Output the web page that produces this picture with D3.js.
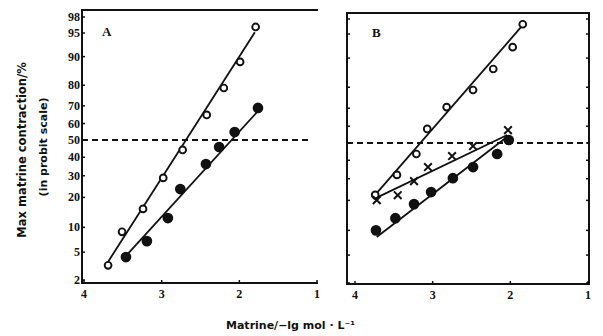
<!DOCTYPE html>
<html>
<head>
<meta charset="utf-8">
<script src="https://cdn.jsdelivr.net/npm/d3@7/dist/d3.min.js"></script>
<style>
  body { margin: 0; background: #fff; }
  text { font-family: "Liberation Serif", serif; font-weight: bold; fill: #111; }
  text.title { font-family: "DejaVu Sans", sans-serif; }
</style>
</head>
<body>
<svg id="chart" width="603" height="336"></svg>
<script>
const yTicks = [2, 5, 10, 20, 30, 40, 50, 60, 70, 80, 90, 95, 98];
const xTicks = [4, 3, 2, 1];

// panel A  (x = -lg mol/L, y = % contraction)
const aOpenX = [3.69, 3.51, 3.24, 2.98, 2.73, 2.42, 2.20, 1.99, 1.79];
const aOpenY = [3.3, 8.9, 15.6, 28.9, 44.2, 65.0, 78.8, 88.5, 96.4];
const aFillX = [3.46, 3.19, 2.92, 2.76, 2.43, 2.26, 2.06, 1.76];
const aFillY = [4.3, 6.9, 12.6, 23.6, 36.2, 45.9, 54.9, 68.9];
const aOpenFit = [[3.69, 3.7], [1.80, 95.2]];
const aFillFit = [[3.43, 4.8], [1.77, 66.7]];

// panel B
const bOpenX = [3.74, 3.46, 3.21, 3.07, 2.82, 2.48, 2.22, 1.97, 1.84];
const bOpenY = [22.3, 32.0, 43.6, 58.4, 70.6, 78.8, 86.8, 92.6, 97.2];
const bCrossX = [3.72, 3.45, 3.24, 3.06, 2.75, 2.48, 2.03];
const bCrossY = [20.1, 22.2, 28.8, 36.2, 42.4, 48.2, 57.7];
const bFillX = [3.73, 3.48, 3.24, 3.02, 2.74, 2.48, 2.17, 2.02];
const bFillY = [10.0, 13.5, 18.5, 23.6, 30.3, 36.2, 43.6, 51.8];
const bOpenFit = [[3.74, 22.3], [1.81, 97.5]];
const bCrossFit = [[3.76, 20.5], [2.04, 54.8]];
const bFillFit = [[3.72, 8.4], [2.06, 53.0]];

// inverse normal CDF (Acklam)
function probit(p) {
  const a = [-39.69683028665376, 220.9460984245205, -275.9285104469687, 138.357751867269, -30.66479806614716, 2.506628277459239];
  const b = [-54.47609879822406, 161.5858368580409, -155.6989798598866, 66.80131188771972, -13.28068155288572];
  const c = [-0.007784894002430293, -0.3223964580411365, -2.400758277161838, -2.549732539343734, 4.374664141464968, 2.938163982698783];
  const d = [0.007784695709041462, 0.3224671290700398, 2.445134137142996, 3.754408661907416];
  const pl = 0.02425;
  let q, r;
  if (p < pl) {
    q = Math.sqrt(-2 * Math.log(p));
    return (((((c[0]*q+c[1])*q+c[2])*q+c[3])*q+c[4])*q+c[5]) / ((((d[0]*q+d[1])*q+d[2])*q+d[3])*q+1);
  }
  if (p > 1 - pl) {
    q = Math.sqrt(-2 * Math.log(1 - p));
    return -(((((c[0]*q+c[1])*q+c[2])*q+c[3])*q+c[4])*q+c[5]) / ((((d[0]*q+d[1])*q+d[2])*q+d[3])*q+1);
  }
  q = p - 0.5; r = q * q;
  return (((((a[0]*r+a[1])*r+a[2])*r+a[3])*r+a[4])*r+a[5])*q / (((((b[0]*r+b[1])*r+b[2])*r+b[3])*r+b[4])*r+1);
}

const svg = d3.select('#chart');
const zDom = [probit(0.02), 0, probit(0.95), probit(0.98)];

function panel(cfg) {
  const x = d3.scaleLinear().domain([4, 1]).range(cfg.xr);
  const zs = d3.scaleLinear().domain(zDom).range(cfg.yr);
  const y = v => zs(probit(v / 100));
  const g = svg.append('g');

  // frame
  const f = cfg.frame;
  g.append('path')
    .attr('d', cfg.right
      ? `M${f.l},${f.t}H${f.r}V${f.b}H${f.l}Z`
      : `M${f.r},${f.t}H${f.l}V${f.b}H${f.r}`)
    .attr('fill', 'none').attr('stroke', '#111').attr('stroke-width', 2);

  // y ticks (inward)
  g.selectAll('.yt').data(yTicks).enter().append('line')
    .attr('x1', f.l).attr('x2', f.l + 3)
    .attr('y1', d => y(d)).attr('y2', d => y(d))
    .attr('stroke', '#111').attr('stroke-width', 1.5);
  if (cfg.right) {
    g.selectAll('.yt2').data(yTicks).enter().append('line')
      .attr('x1', f.r).attr('x2', f.r - 3)
      .attr('y1', d => y(d)).attr('y2', d => y(d))
      .attr('stroke', '#111').attr('stroke-width', 1.5);
  }
  if (cfg.labels) {
    g.selectAll('.yl').data(yTicks).enter().append('text')
      .attr('x', f.l - 2).attr('y', d => y(d) + 4)
      .attr('text-anchor', 'end').attr('font-size', 12)
      .text(d => d);
  }

  // x ticks
  g.selectAll('.xt').data(xTicks).enter().append('line')
    .attr('x1', d => x(d)).attr('x2', d => x(d))
    .attr('y1', f.b).attr('y2', f.b - 3)
    .attr('stroke', '#111').attr('stroke-width', 1.5);
  g.selectAll('.xl').data(xTicks).enter().append('text')
    .attr('x', d => x(d)).attr('y', f.b + 15)
    .attr('text-anchor', 'middle').attr('font-size', 12)
    .text(d => d);

  // 50% dashed line
  g.append('line')
    .attr('x1', f.l).attr('x2', cfg.dashEnd)
    .attr('y1', y(50)).attr('y2', y(50))
    .attr('stroke', '#111').attr('stroke-width', 2)
    .attr('stroke-dasharray', '6,4');

  g.append('text').attr('x', cfg.tag[0]).attr('y', cfg.tag[1])
    .attr('font-size', 13).text(cfg.name);

  const line = d3.line().x(d => x(d[0])).y(d => y(d[1]));
  cfg.fits.forEach(fit => {
    g.append('path').attr('d', line(fit))
      .attr('fill', 'none').attr('stroke', '#111').attr('stroke-width', 1.8);
  });

  cfg.series.forEach(s => {
    const pts = d3.zip(s.x, s.y);
    if (s.kind === 'cross') {
      g.selectAll(null).data(pts).enter().append('path')
        .attr('d', d3.symbol(d3.symbolX, 40))
        .attr('transform', d => `translate(${x(d[0])},${y(d[1])})`)
        .attr('fill', 'none').attr('stroke', '#111').attr('stroke-width', 2);
    } else {
      g.selectAll(null).data(pts).enter().append('circle')
        .attr('cx', d => x(d[0])).attr('cy', d => y(d[1]))
        .attr('r', s.kind === 'open' ? 3.4 : 4.4)
        .attr('fill', s.kind === 'open' ? '#fff' : '#111')
        .attr('stroke', '#111').attr('stroke-width', 1.9);
    }
  });
}

panel({
  name: 'A', tag: [102, 36], labels: true, right: false,
  xr: [84, 317], yr: [280, 140, 33, 17],
  frame: { l: 82, t: 10, r: 318, b: 283 }, dashEnd: 312,
  fits: [aOpenFit, aFillFit],
  series: [
    { kind: 'open', x: aOpenX, y: aOpenY },
    { kind: 'fill', x: aFillX, y: aFillY }
  ]
});

panel({
  name: 'B', tag: [372, 37], labels: false, right: true,
  xr: [355, 588], yr: [283, 143, 34, 19],
  frame: { l: 347, t: 13, r: 589, b: 284 }, dashEnd: 589,
  fits: [bOpenFit, bCrossFit, bFillFit],
  series: [
    { kind: 'open', x: bOpenX, y: bOpenY },
    { kind: 'cross', x: bCrossX, y: bCrossY },
    { kind: 'fill', x: bFillX, y: bFillY }
  ]
});

// axis titles
svg.append('text').attr('class', 'title')
  .attr('transform', 'translate(26,150) rotate(-90)')
  .attr('text-anchor', 'middle').attr('font-size', 11.5)
  .text('Max matrine contraction/%');
svg.append('text').attr('class', 'title')
  .attr('transform', 'translate(47,147) rotate(-90)')
  .attr('text-anchor', 'middle').attr('font-size', 11)
  .text('(in probit scale)');
svg.append('text').attr('class', 'title')
  .attr('x', 226).attr('y', 329).attr('font-size', 11)
  .text('Matrine/\u2212lg mol \u00b7 L\u207b\u00b9');
</script>
</body>
</html>
